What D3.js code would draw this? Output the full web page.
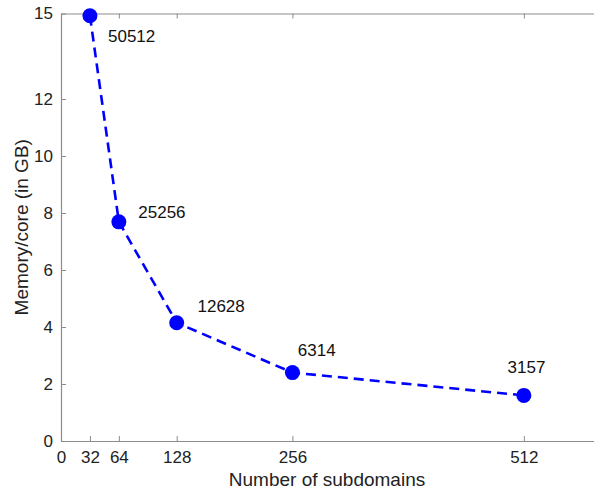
<!DOCTYPE html>
<html>
<head>
<meta charset="utf-8">
<script src="https://cdn.jsdelivr.net/npm/d3@7"></script>
<style>
  body { margin: 0; background: #fff; }
  text { font-family: "Liberation Sans", Arial, sans-serif; }
</style>
</head>
<body>
<script>
// subdomain counts and memory per core
var subdomains = [32, 64, 128, 256, 512];
var memory = [14.92, 7.69, 4.15, 2.4, 1.6];
// annotation text and where it sits (data units, like MATLAB text())
var labels = ['50512', '25256', '12628', '6314', '3157'];
var labelX = [52, 85.5, 151, 262, 494];
var labelY = [14.2, 8.04, 4.74, 3.19, 2.6];
var xTicks = [0, 32, 64, 128, 256, 512];
var yTicks = [0, 2, 4, 6, 8, 10, 12, 15];

var w = 594;
var h = 493;
var plotLeft = 61, plotTop = 13.5, plotBottom = 441;
var axisColour = '#8c8c8c';
var textColour = '#222';

var svg = d3.select('body')
  .append('svg')
  .attr('width', w)
  .attr('height', h);

var xScale = d3.scaleLinear()
  .domain([0, 590])
  .range([plotLeft, plotLeft + 590 * 0.904]);

var yScale = d3.scaleLinear()
  .domain([0, 15])
  .range([plotBottom, plotTop]);

// bottom axis, ticks pointing in
var xAxis = d3.axisBottom(xScale)
  .tickValues(xTicks)
  .tickSizeInner(-5)
  .tickSizeOuter(0)
  .tickPadding(10);

var gx = svg.append('g')
  .attr('transform', 'translate(0,' + plotBottom + ')')
  .call(xAxis);

// top border with mirrored ticks
var gxTop = svg.append('g')
  .attr('transform', 'translate(0,' + plotTop + ')')
  .call(d3.axisTop(xScale).tickValues(xTicks).tickSizeInner(-5).tickSizeOuter(0).tickFormat(''));

var yAxis = d3.axisLeft(yScale)
  .tickValues(yTicks)
  .tickSizeInner(-5)
  .tickSizeOuter(0)
  .tickPadding(8);

var gy = svg.append('g')
  .attr('transform', 'translate(' + plotLeft + ',0)')
  .call(yAxis);

[gx, gxTop, gy].forEach(function(g){
  g.select('.domain').attr('stroke', axisColour).attr('stroke-width', 1.2);
  g.selectAll('.tick line').attr('stroke', axisColour).attr('stroke-width', 1);
  g.selectAll('.tick text')
    .attr('fill', textColour)
    .attr('font-size', '17px')
    .attr('font-family', '"Liberation Sans", Arial, sans-serif');
});
gx.selectAll('.tick text').attr('dy', '0.71em');

// axis titles
svg.append('text')
  .attr('x', (xScale(0) + 594) / 2 - 0.5)
  .attr('y', 486)
  .attr('text-anchor', 'middle')
  .attr('font-size', '19px')
  .attr('fill', textColour)
  .text('Number of subdomains');

svg.append('text')
  .attr('transform', 'translate(28,' + ((plotTop + plotBottom) / 2) + ') rotate(-90)')
  .attr('text-anchor', 'middle')
  .attr('font-size', '19px')
  .attr('fill', textColour)
  .text('Memory/core (in GB)');

// dashed line through the points
var line = d3.line()
  .x(function(d, i){ return xScale(subdomains[i]); })
  .y(function(d){ return yScale(d); });

svg.append('path')
  .datum(memory)
  .attr('d', line)
  .attr('fill', 'none')
  .attr('stroke', '#0000ff')
  .attr('stroke-width', 2.6)
  .attr('stroke-dasharray', '10,6');

svg.selectAll('circle')
  .data(memory)
  .enter()
  .append('circle')
  .attr('cx', function(d, i){ return xScale(subdomains[i]); })
  .attr('cy', function(d){ return yScale(d); })
  .attr('r', 7.5)
  .attr('fill', '#0000ff');

svg.selectAll('text.annot')
  .data(labels)
  .enter()
  .append('text')
  .attr('class', 'annot')
  .attr('x', function(d, i){ return xScale(labelX[i]); })
  .attr('y', function(d, i){ return yScale(labelY[i]); })
  .attr('dy', '0.35em')
  .attr('font-size', '17px')
  .attr('fill', '#111')
  .text(function(d){ return d; });
</script>
</body>
</html>
